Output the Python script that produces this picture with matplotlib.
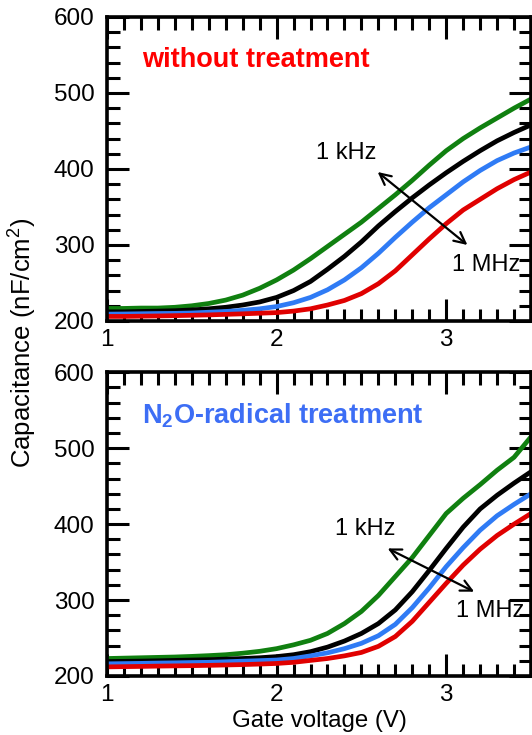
import numpy as np
import matplotlib
matplotlib.use("Agg")
import matplotlib.pyplot as plt
from matplotlib.ticker import MultipleLocator

plt.rcParams['font.family'] = ['Liberation Sans', 'DejaVu Sans']
plt.rcParams['mathtext.fontset'] = 'custom'
plt.rcParams['mathtext.rm'] = 'Liberation Sans'
plt.rcParams['mathtext.bf'] = 'Liberation Sans:bold'

# =============================
# Data
# =============================
gate_v = [1.0, 1.1, 1.2, 1.3, 1.4, 1.5, 1.6, 1.7, 1.8, 1.9, 2.0, 2.1, 2.2,
          2.3, 2.4, 2.5, 2.6, 2.7, 2.8, 2.9, 3.0, 3.1, 3.2, 3.3, 3.4, 3.5]

# without treatment (1 kHz -> 1 MHz: green, black, blue, red)
top_green = [216.5, 216.5, 217, 217, 218, 220, 223, 227.5, 234, 243, 254, 267, 282,
             298, 314, 330, 348, 366, 385, 405, 424, 440, 454, 467, 480, 492]
top_black = [212, 212, 212.5, 213, 213.5, 214.5, 216, 218, 221, 225, 231, 240, 252,
             268, 285, 304, 325, 344, 362, 379, 395, 410, 424, 437, 448, 458]
top_blue = [209, 209.2, 209.5, 209.8, 210, 210.5, 211.5, 212.5, 214, 216, 219, 224, 231,
            241, 254, 270, 289, 310, 330, 349, 366, 383, 398, 411, 421, 429]
top_red = [206, 206, 206.3, 206.6, 207, 207.5, 208, 208.7, 209.4, 210.2, 211, 213, 216,
           221, 227, 236, 249, 266, 287, 308, 328, 346, 360, 374, 386, 396]

# N2O-radical treatment
bot_green = [223, 223.5, 224, 224.5, 225, 225.8, 226.8, 228, 230, 232.5, 236, 241, 247,
             256, 269, 285, 306, 331, 356, 385, 414, 434, 452, 471, 488, 515]
bot_black = [219, 219.3, 219.6, 220, 220.5, 221, 221.5, 222.2, 223, 224, 225.5, 228, 232,
             238, 246, 256, 269, 287, 311, 339, 368, 396, 420, 438, 454, 469]
bot_blue = [216, 216.3, 216.6, 217, 217.3, 217.7, 218, 218.7, 219.5, 220.2, 221, 223, 226.5,
            230.5, 236, 243, 253, 268, 290, 316, 344, 369, 392, 411, 426, 440]
bot_red = [212, 212.3, 212.6, 213, 213.3, 213.6, 214, 214.5, 215, 215.7, 216.5, 218, 220.5,
           223, 226.5, 231, 239, 252, 272, 297, 322, 346, 367, 385, 400, 414]

colors = ['#108010', 'black', '#2f7bf5', '#e00000']

panels = [
    dict(curves=[top_green, top_black, top_blue, top_red],
         title='without treatment', tcolor='#ff0000',
         arrow=((2.596, 396), (3.125, 300)),
         khz=(2.41, 421), mhz=(3.235, 274)),
    dict(curves=[bot_green, bot_black, bot_blue, bot_red],
         title=r'N$_\mathbf{2}$O-radical treatment', tcolor='#3d6ef5',
         arrow=((2.655, 368), (3.165, 311)),
         khz=(2.52, 394), mhz=(3.26, 285)),
]

fig = plt.figure(figsize=(5.32, 7.35), dpi=100)
axes = [fig.add_axes([0.2011, 0.5633, 0.797, 0.4136]),
        fig.add_axes([0.2011, 0.0803, 0.797, 0.4132])]

for ax, p in zip(axes, panels):
    for c, col in zip(p['curves'], colors):
        ax.plot(gate_v, c, color=col, lw=3.4, zorder=2)
    ax.set_xlim(1, 3.5)
    ax.set_ylim(200, 600)
    ax.xaxis.set_major_locator(MultipleLocator(1))
    ax.yaxis.set_major_locator(MultipleLocator(100))
    ax.xaxis.set_minor_locator(MultipleLocator(0.1))
    ax.yaxis.set_minor_locator(MultipleLocator(20))
    ax.tick_params(axis='both', which='both', direction='in', top=True, right=True,
                   width=2.2, color='black', labelsize=17.5)
    ax.tick_params(axis='both', which='major', length=16)
    ax.tick_params(axis='both', which='minor', length=9)
    ax.tick_params(axis='x', pad=6)
    ax.tick_params(axis='y', pad=9)
    for s in ax.spines.values():
        s.set_linewidth(2.6)

    ax.text(1.204, 543, p['title'], color=p['tcolor'], fontsize=19.5,
            fontweight='bold', va='center', ha='left')
    a, b = p['arrow']
    ax.annotate('', xy=a, xytext=b,
                arrowprops=dict(arrowstyle='<->,head_length=0.8,head_width=0.4',
                                color='black', lw=1.6, shrinkA=0, shrinkB=0))
    ax.text(*p['khz'], '1 kHz', fontsize=17, ha='center', va='center')
    ax.text(*p['mhz'], '1 MHz', fontsize=17, ha='center', va='center')

axes[1].set_xlabel('Gate voltage (V)', fontsize=17.3, labelpad=3)
fig.text(22 / 532, 1 - 343 / 735, 'Capacitance (nF/cm$^2$)', rotation=90,
         fontsize=18.5, ha='center', va='center')

fig.savefig('out.png', dpi=100)
